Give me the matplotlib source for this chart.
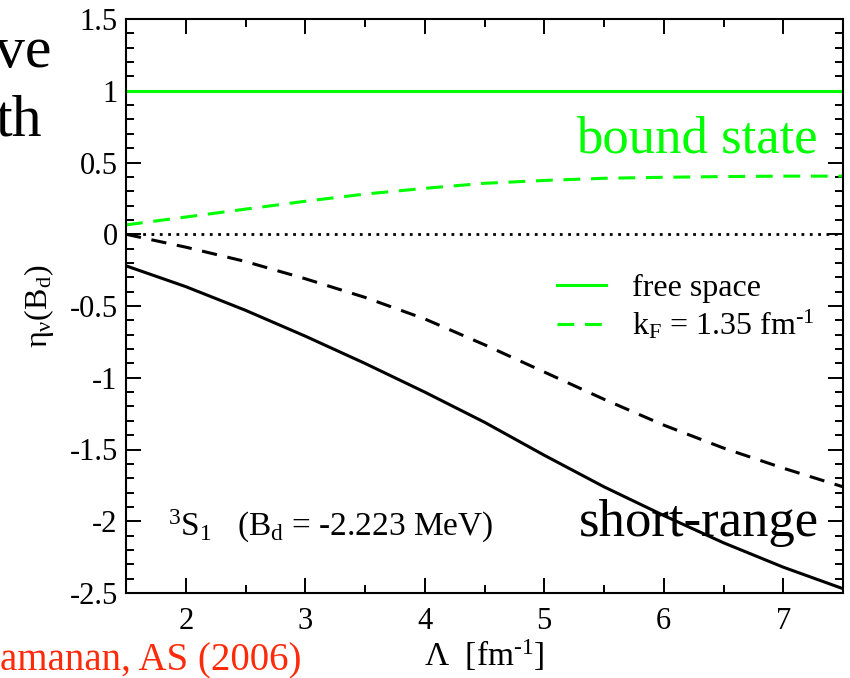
# eta_v(B_d) vs cutoff Lambda, 3S1 channel, free space vs k_F = 1.35 fm^-1
import matplotlib
matplotlib.use('Agg')
import matplotlib.pyplot as plt
from matplotlib.ticker import MultipleLocator

plt.rcParams['font.family'] = ['Liberation Serif', 'DejaVu Serif']
plt.rcParams['mathtext.fontset'] = 'custom'
plt.rcParams['mathtext.rm'] = 'Liberation Serif'
plt.rcParams['mathtext.it'] = 'Liberation Serif:italic'
plt.rcParams['axes.unicode_minus'] = False

# cutoff Lambda [fm^-1]
lam = [1.5, 2.0, 2.5, 3.0, 3.5, 4.0, 4.5, 5.0, 5.5, 6.0, 6.5, 7.0, 7.5]

# bound state (green)
bound_free = [1.0, 1.0, 1.0, 1.0, 1.0, 1.0, 1.0, 1.0, 1.0, 1.0, 1.0, 1.0, 1.0]
bound_kf = [0.065, 0.12, 0.175, 0.23, 0.28, 0.32, 0.355, 0.375, 0.39, 0.397, 0.402, 0.405, 0.405]

# short-range (black)
short_free = [-0.22, -0.365, -0.53, -0.71, -0.90, -1.10, -1.31, -1.54, -1.76, -1.96, -2.15, -2.32, -2.47]
short_kf = [0.0, -0.09, -0.19, -0.31, -0.44, -0.59, -0.77, -0.96, -1.15, -1.33, -1.49, -1.63, -1.76]

xticks = [2, 3, 4, 5, 6, 7]
xticklabels = ['2', '3', '4', '5', '6', '7']
yticks = [-2.5, -2.0, -1.5, -1.0, -0.5, 0.0, 0.5, 1.0, 1.5]
yticklabels = ['-2.5', '-2', '-1.5', '-1', '-0.5', '0', '0.5', '1', '1.5']

green = '#00ff00'

fig = plt.figure(figsize=(8.5, 6.78), dpi=100)
ax = fig.add_axes([126 / 850, 85 / 678, 717 / 850, 574 / 678])

ax.plot(lam, bound_free, color=green, lw=2.2, label='free space')
ax.plot(lam, bound_kf, color=green, lw=2.2, dashes=(5.5, 3.5),
        label=r'k$_\mathrm{F}$ = 1.35 fm$^{\text{-1}}$')
ax.plot(lam, short_free, color='black', lw=2.2)
ax.plot(lam, short_kf, color='black', lw=2.2, dashes=(5, 3.5))
ax.axhline(0, color='black', lw=2.0, dashes=(1, 2))

ax.set_xlim(1.5, 7.5)
ax.set_ylim(-2.5, 1.5)
ax.set_xticks(xticks)
ax.set_xticklabels(xticklabels)
ax.set_yticks(yticks)
ax.set_yticklabels(yticklabels)
ax.xaxis.set_minor_locator(MultipleLocator(0.5))
ax.yaxis.set_minor_locator(MultipleLocator(0.1))
ax.tick_params(which='both', direction='in', top=True, right=True, width=1.4,
               labelsize=22)
ax.tick_params(which='major', length=11)
ax.tick_params(which='minor', length=5.5)
ax.tick_params(axis='x', pad=10)
ax.tick_params(axis='y', pad=6)
for s in ax.spines.values():
    s.set_linewidth(1.5)

ax.set_xlabel(r'Λ  [fm$^{\text{-1}}$]', fontsize=24)
ax.xaxis.set_label_coords(0.5, -0.078)
ax.set_ylabel(r'η$_\mathrm{ν}$(B$_\mathrm{d}$)', fontsize=23)
ax.yaxis.set_label_coords(-0.098, 0.5)

ax.legend(loc='upper left', bbox_to_anchor=(0.583, 0.578), frameon=False,
          fontsize=23, handlelength=1.55, handletextpad=0.8, labelspacing=0.15,
          borderaxespad=0)

ax.text(0.965, 0.767, 'bound state', transform=ax.transAxes, color=green,
        fontsize=38, ha='right', va='baseline')
ax.text(0.967, 0.099, 'short-range', transform=ax.transAxes, color='black',
        fontsize=38, ha='right', va='baseline')
ax.text(0.058, 0.099, r'$^\mathrm{3}$S$_\mathrm{1}$   (B$_\mathrm{d}$ = -2.223 MeV)',
        transform=ax.transAxes, fontsize=24, ha='left', va='baseline')

# pieces of the slide around the figure (cut at the left edge, as on the slide)
fig.text(-5 / 850, 1 - 67 / 678, 've', fontsize=43, ha='left', va='baseline')
fig.text(-5 / 850, 1 - 136 / 678, 'th', fontsize=43, ha='left', va='baseline')
fig.text(0, 1 - 670 / 678, 'amanan, AS (2006)', color='#ff2a0a', fontsize=28,
         ha='left', va='baseline')

fig.savefig('out.png', dpi=100)
